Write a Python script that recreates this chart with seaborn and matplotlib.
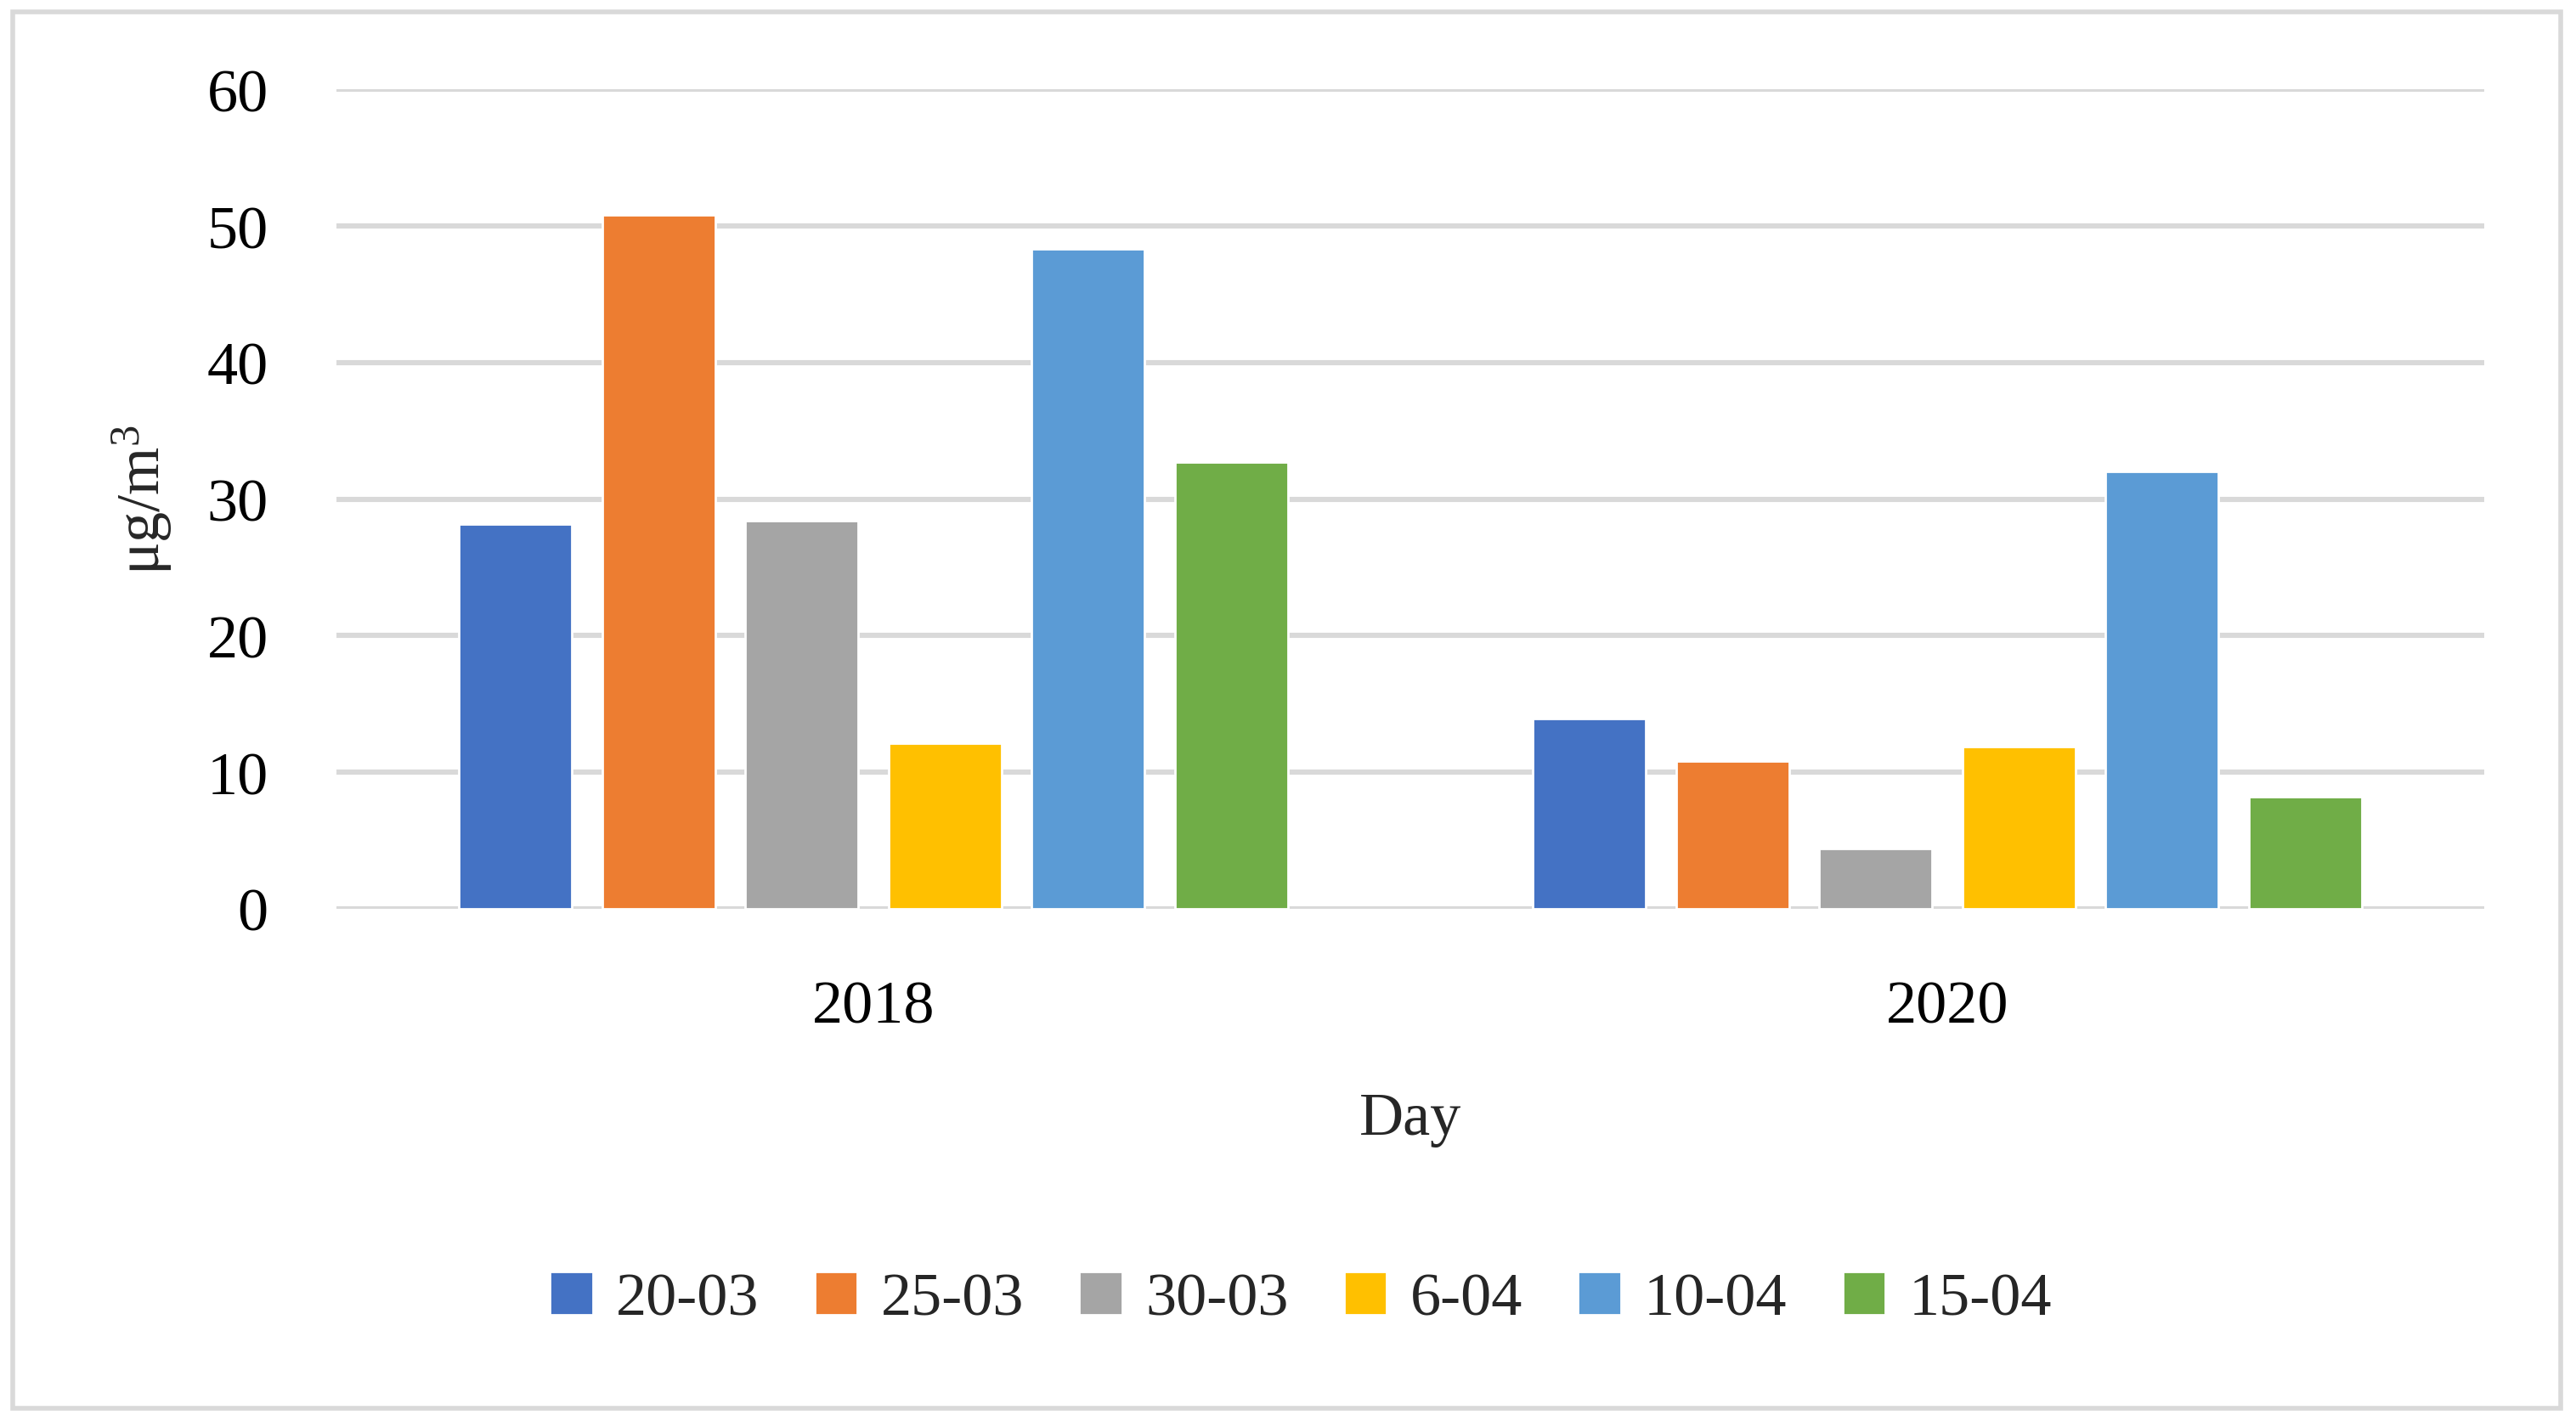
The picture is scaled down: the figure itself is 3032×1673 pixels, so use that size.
import matplotlib
matplotlib.use("Agg")
import matplotlib.pyplot as plt
from matplotlib.patches import Rectangle
import seaborn as sns
import pandas as pd

# values
years = ["2018", "2020"]
days = ["20-03", "25-03", "30-03", "6-04", "10-04", "15-04"]
values_2018 = [28.2, 50.8, 28.4, 12.1, 48.3, 32.7]
values_2020 = [13.9, 10.8, 4.4, 11.9, 32.0, 8.2]
colors = ["#4472C4", "#ED7D31", "#A5A5A5", "#FFC000", "#5B9BD5", "#70AD47"]
y_ticks = [0, 10, 20, 30, 40, 50, 60]

rows = []
for year, vals in zip(years, [values_2018, values_2020]):
    for day, v in zip(days, vals):
        rows.append({"year": year, "day": day, "value": v})
df = pd.DataFrame(rows)

sns.set_style("white")
plt.rcParams["font.family"] = ["Liberation Serif", "DejaVu Serif"]
plt.rcParams["mathtext.fontset"] = "custom"
plt.rcParams["mathtext.rm"] = "Liberation Serif"
plt.rcParams["mathtext.it"] = "Liberation Serif:italic"

FS = 26

fig = plt.figure(figsize=(15.16, 8.37), dpi=200)
ax = fig.add_axes([0.1307, 0.3603, 0.8336, 0.5762])

sns.barplot(data=df, x="year", y="value", hue="day", hue_order=days,
            palette=colors, saturation=1, width=0.8, gap=0.21, ax=ax,
            zorder=3)

ax.set_ylim(0, 60)
ax.set_yticks(y_ticks)
ax.yaxis.grid(True, color="#D9D9D9", linewidth=2.2, zorder=0)
ax.set_axisbelow(True)
for s in ax.spines.values():
    s.set_visible(False)
ax.tick_params(axis="both", length=0, labelsize=FS, colors="black")
ax.tick_params(axis="y", pad=29)
ax.tick_params(axis="x", pad=30)
ax.set_xlabel("Day", fontsize=FS, labelpad=24)
ax.set_ylabel(r"μg/m$^\mathregular{3}$", fontsize=FS, labelpad=14)

ax.legend(loc="center", bbox_to_anchor=(0.505, 0.0855),
          bbox_transform=fig.transFigure, ncol=6, frameon=False,
          fontsize=FS, handlelength=0.7, handleheight=0.7,
          handletextpad=0.38, columnspacing=0.9)

# light grey frame round the whole chart
fig.patches.append(Rectangle((0.005, 0.009), 0.989, 0.982,
                             transform=fig.transFigure, fill=False,
                             edgecolor="#D9D9D9", linewidth=2))

fig.savefig("out.png", dpi=200, facecolor="white")
